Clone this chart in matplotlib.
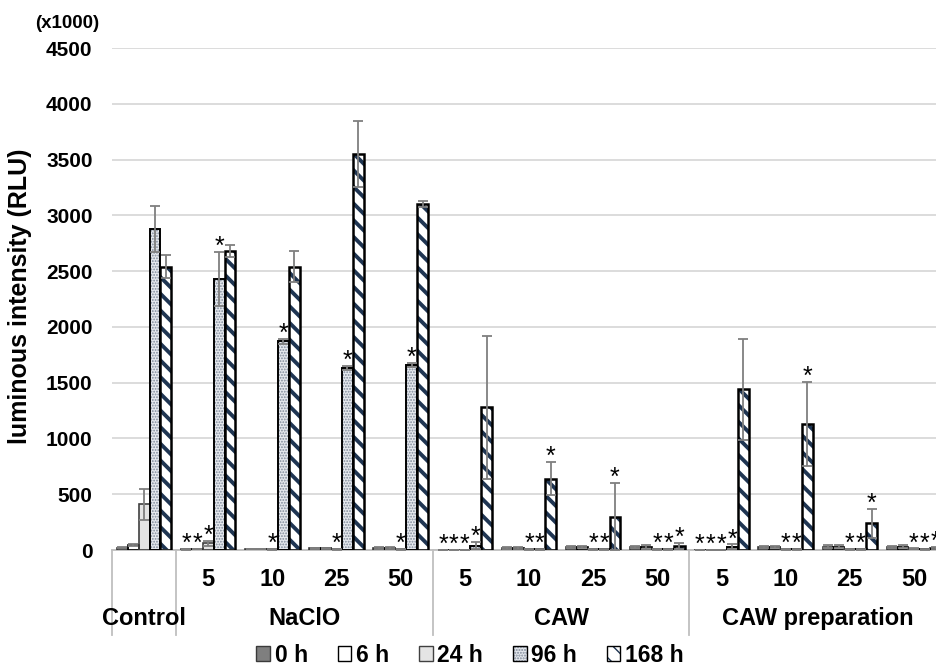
import numpy as np
import matplotlib.pyplot as plt
from matplotlib.patches import Patch

# ================= SETTINGS =================
plt.rcParams.update({
    "font.family": ["Liberation Sans", "DejaVu Sans"],
    "font.weight": "bold",
})

# ================= DATA (x1000 RLU) =================
groups = ["Control", "NaClO", "CAW", "CAW preparation"]
group_sizes = [1, 4, 4, 4]
conc_labels = ["", "5", "10", "25", "50", "5", "10", "25", "50",
               "5", "10", "25", "50"]
times = ["0 h", "6 h", "24 h", "96 h", "168 h"]

h0 = [20, 5, 10, 15, 15, 2, 20, 30, 25, 2, 25, 30, 25]
h6 = [45, 10, 10, 15, 20, 2, 20, 30, 30, 2, 25, 30, 30]
h24 = [410, 60, 5, 5, 5, 2, 5, 5, 5, 2, 5, 5, 10]
h96 = [2880, 2430, 1870, 1630, 1660, 40, 5, 5, 5, 30, 5, 5, 5]
h168 = [2540, 2680, 2540, 3550, 3100, 1280, 640, 300, 35, 1440, 1130, 240, 20]

sd0 = [5, 2, 3, 5, 8, 1, 8, 10, 10, 1, 10, 12, 10]
sd6 = [5, 3, 3, 5, 10, 1, 8, 10, 18, 1, 10, 12, 15]
sd24 = [140, 20, 2, 2, 2, 1, 2, 2, 2, 1, 2, 2, 4]
sd96 = [205, 240, 20, 20, 20, 30, 2, 2, 2, 20, 2, 2, 2]
sd168 = [100, 50, 140, 300, 25, 640, 150, 300, 30, 450, 380, 130, 10]

# bars marked with * (category index)
sig0 = [1, 5, 9]
sig6 = [1, 5, 9]
sig24 = [1, 2, 3, 4, 5, 6, 7, 8, 9, 10, 11, 12]
sig96 = [1, 2, 3, 4, 5, 6, 7, 8, 9, 10, 11, 12]
sig168 = [6, 7, 8, 10, 11, 12]

values = [h0, h6, h24, h96, h168]
errors = [sd0, sd6, sd24, sd96, sd168]
sigs = [sig0, sig6, sig24, sig96, sig168]

# fill, hatch colour, hatch, hatch width, outline colour, outline width
styles = [
    ("#7f7f7f", "#7f7f7f", None, 1.0, "#3a3a3a", 1.2),
    ("white", "white", None, 1.0, "black", 1.2),
    ("#e4e4e4", "#e4e4e4", None, 1.0, "#404040", 1.2),
    ("#e6e9ee", "#7d8898", "......", 0.9, "black", 1.4),
    ("white", "#1f3552", "\\\\", 2.8, "black", 1.8),
]

# ================= PLOT =================
fig = plt.figure(figsize=(9.36, 6.68), dpi=100)
ax = fig.add_axes([112 / 936, 118 / 668, 834 / 936, 502 / 668])

n = len(conc_labels)
idx = np.arange(n)
w = 0.17
handles = []

for k in range(5):
    fc, hc, hatch, hlw, ec, lw = styles[k]
    x = idx + (k - 2) * w
    with plt.rc_context({"hatch.linewidth": hlw}):
        ax.bar(x, values[k], w, color=fc, edgecolor=hc, linewidth=0,
               hatch=hatch, zorder=2)
        hp = Patch(facecolor=fc, edgecolor=hc, hatch=hatch, lw=0)
    ax.bar(x, values[k], w, fill=False, edgecolor=ec, linewidth=lw,
           zorder=3)
    ax.errorbar(x, values[k], yerr=errors[k], fmt="none", ecolor="#7f7f7f",
                elinewidth=1.3, capsize=3.5, capthick=1.3, zorder=4)
    for i in sigs[k]:
        ax.annotate("*", (x[i], values[k][i] + errors[k][i]),
                    xytext=(0, -1.5), textcoords="offset points",
                    ha="center", va="baseline", fontsize=18,
                    fontweight="normal", zorder=5)
    handles.append((hp, Patch(fill=False, edgecolor=ec, lw=1)))

ax.set_xlim(-0.5, n - 0.5)
ax.set_ylim(0, 4500)
ax.set_yticks(np.arange(0, 4501, 500))
ax.yaxis.grid(True, color="#d9d9d9", linewidth=1.3)
ax.set_axisbelow(True)
for s in ["left", "right", "top"]:
    ax.spines[s].set_visible(False)
ax.spines["bottom"].set_color("#bfbfbf")
ax.spines["bottom"].set_linewidth(1.3)
ax.tick_params(axis="y", length=0, pad=14, labelsize=15)
ax.tick_params(axis="x", length=0, labelbottom=False)

# two-level category axis
trans = ax.get_xaxis_transform()
bounds = np.cumsum([0] + group_sizes) - 0.5
for b in bounds:
    ax.plot([b, b], [0, -0.17], transform=trans, clip_on=False,
            color="#bfbfbf", linewidth=1.3)
for i, lab in enumerate(conc_labels):
    ax.text(i, -0.058, lab, transform=trans, ha="center", va="center",
            fontsize=17)
for g, lab in enumerate(groups):
    ax.text((bounds[g] + bounds[g + 1]) / 2, -0.137, lab, transform=trans,
            ha="center", va="center", fontsize=17)

fig.text(67 / 936, 1 - 24 / 668, "(x1000)", ha="center", va="center",
         fontsize=13.5)
fig.text(20 / 936, 1 - 296 / 668, "luminous intensity (RLU)", rotation=90,
         ha="center", va="center", fontsize=18)

fig.legend(handles, times, loc="center", bbox_to_anchor=(470 / 936, 1 - 655 / 668),
           ncol=5, frameon=False, handlelength=0.6, handleheight=0.6,
           handletextpad=0.2, columnspacing=1.3, borderpad=0,
           prop=dict(weight="bold", size=16.5))

fig.savefig("out.png", dpi=100)
